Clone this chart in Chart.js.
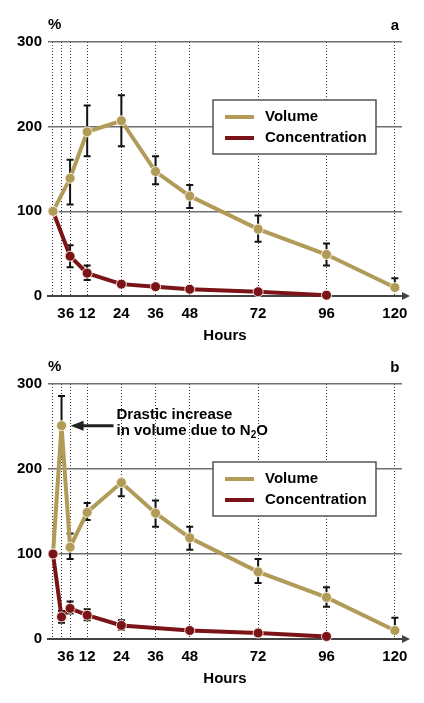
<!DOCTYPE html>
<html>
<head>
<meta charset="utf-8">
<script src="https://cdn.jsdelivr.net/npm/chart.js@4.4.1/dist/chart.umd.min.js"></script>
<style>
  html, body { margin: 0; padding: 0; background: #fff; }
  #wrap { position: relative; width: 424px; height: 703px; }
  canvas { position: absolute; left: 0; }
  #chartA { top: 0; }
  #chartB { top: 342px; }
</style>
</head>
<body>
<div id="wrap">
  <canvas id="chartA" width="424" height="342"></canvas>
  <canvas id="chartB" width="424" height="361"></canvas>
</div>
<script>
// ---- data ----
const HOUR_TICKS = [0, 3, 6, 12, 24, 36, 48, 72, 96, 120];
const Y_TICKS = [0, 100, 200, 300];

// panel a
const A_VOL_HOURS = [0, 6, 12, 24, 36, 48, 72, 96, 120];
const A_VOL       = [100, 139, 194, 207, 147, 118, 79, 49, 10];
const A_VOL_HI    = [null, 161, 225, 237, 165, 131, 95, 62, 21];
const A_VOL_LO    = [null, 108, 165, 177, 132, 104, 64, 36, null];

const A_CON_HOURS = [0, 6, 12, 24, 36, 48, 72, 96];
const A_CON       = [100, 47, 27, 14, 11, 8, 5, 1];
const A_CON_HI    = [null, 60, 36, null, null, null, null, null];
const A_CON_LO    = [null, 34, 19, null, null, null, null, null];

// panel b
const B_VOL_HOURS = [0, 3, 6, 12, 24, 36, 48, 72, 96, 120];
const B_VOL       = [100, 251, 108, 149, 184, 148, 119, 79, 49, 10];
const B_VOL_HI    = [null, 286, 124, 160, null, 163, 132, 94, 61, 25];
const B_VOL_LO    = [null, 214, 94, 140, 168, 132, 105, 66, 38, null];

const B_CON_HOURS = [0, 3, 6, 12, 24, 48, 72, 96];
const B_CON       = [100, 26, 36, 28, 16, 10, 7, 3];
const B_CON_HI    = [null, 33, 44, 35, 22, null, null, null];
const B_CON_LO    = [null, 19, 30, 22, 11, null, null, null];

const LABELS = ["Volume", "Concentration"];

const GOLD = "#b09b58";
const RED = "#7a1418";
const FONT = "Liberation Sans, Arial, sans-serif";

function toXY(hours, vals) {
  return hours.map((h, i) => ({ x: h, y: vals[i] }));
}

function series(label, hours, vals, hi, lo, color, order) {
  return {
    label,
    data: toXY(hours, vals),
    errHi: hi,
    errLo: lo,
    borderColor: color,
    backgroundColor: color,
    borderWidth: 4,
    pointRadius: 5,
    pointBorderWidth: 1,
    pointBorderColor: "rgba(255,250,235,0.85)",
    pointBackgroundColor: color,
    tension: 0,
    clip: false,
    order
  };
}

// error bars, axis arrow, legend box, panel letters, note
const extras = {
  id: "extras",
  beforeDatasetsDraw(chart) {
    const ctx = chart.ctx;
    const y = chart.scales.y;
    ctx.save();
    ctx.strokeStyle = "#111";
    ctx.lineWidth = 2;
    chart.data.datasets.forEach((ds, di) => {
      const meta = chart.getDatasetMeta(di);
      meta.data.forEach((pt, i) => {
        [ds.errHi[i], ds.errLo[i]].forEach(v => {
          if (v == null) return;
          const py = y.getPixelForValue(v);
          ctx.beginPath();
          ctx.moveTo(pt.x, pt.y);
          ctx.lineTo(pt.x, py);
          ctx.moveTo(pt.x - 3.5, py);
          ctx.lineTo(pt.x + 3.5, py);
          ctx.stroke();
        });
      });
    });
    ctx.restore();
  },
  afterDraw(chart, args, opts) {
    const ctx = chart.ctx;
    const area = chart.chartArea;
    ctx.save();

    // arrow at the end of the x axis
    ctx.fillStyle = "#444";
    ctx.beginPath();
    ctx.moveTo(area.right - 1, area.bottom - 1);
    ctx.lineTo(area.right + 6, area.bottom - 1);
    ctx.lineTo(area.right + 6, area.bottom + 1);
    ctx.lineTo(area.right - 1, area.bottom + 1);
    ctx.fill();
    ctx.beginPath();
    ctx.moveTo(area.right + 8, area.bottom);
    ctx.lineTo(area.right, area.bottom - 4);
    ctx.lineTo(area.right, area.bottom + 4);
    ctx.closePath();
    ctx.fill();

    // % and panel letter
    ctx.fillStyle = "#000";
    ctx.font = "bold 15px " + FONT;
    ctx.textBaseline = "middle";
    ctx.textAlign = "left";
    ctx.fillText("%", area.left, 25);
    ctx.textAlign = "center";
    ctx.fillText(opts.letter, chart.scales.x.getPixelForValue(120), 26);

    // legend box
    const lx = 213, lw = 163, lh = 54, ly = opts.legendTop;
    ctx.fillStyle = "#fff";
    ctx.fillRect(lx, ly, lw, lh);
    ctx.strokeStyle = "#555";
    ctx.lineWidth = 1.5;
    ctx.strokeRect(lx, ly, lw, lh);
    chart.data.datasets.forEach((ds, i) => {
      const yy = ly + 17 + i * 21;
      ctx.strokeStyle = ds.borderColor;
      ctx.lineWidth = 4;
      ctx.beginPath();
      ctx.moveTo(lx + 12, yy);
      ctx.lineTo(lx + 41, yy);
      ctx.stroke();
      ctx.fillStyle = "#000";
      ctx.textAlign = "left";
      ctx.fillText(ds.label, lx + 52, yy);
    });

    // annotation arrow pointing to a data point
    if (opts.note) {
      const pt = chart.getDatasetMeta(opts.note.dataset).data[opts.note.index];
      const tipX = pt.x + 9, tipY = pt.y;
      ctx.strokeStyle = "#222";
      ctx.fillStyle = "#222";
      ctx.lineWidth = 3;
      ctx.beginPath();
      ctx.moveTo(tipX + 10, tipY);
      ctx.lineTo(tipX + 43, tipY);
      ctx.stroke();
      ctx.beginPath();
      ctx.moveTo(tipX, tipY);
      ctx.lineTo(tipX + 13, tipY - 5);
      ctx.lineTo(tipX + 13, tipY + 5);
      ctx.closePath();
      ctx.fill();

      const tx = tipX + 46;
      ctx.fillStyle = "#000";
      ctx.textAlign = "left";
      ctx.font = "bold 15px " + FONT;
      ctx.fillText(opts.note.line1, tx, tipY - 11);
      ctx.fillText(opts.note.line2, tx, tipY + 5);
      let w = ctx.measureText(opts.note.line2).width;
      ctx.font = "bold 10px " + FONT;
      ctx.fillText(opts.note.sub, tx + w, tipY + 10);
      w += ctx.measureText(opts.note.sub).width;
      ctx.font = "bold 15px " + FONT;
      ctx.fillText(opts.note.tail, tx + w, tipY + 5);
    }
    ctx.restore();
  }
};

function makeOptions(bottomPad, extraOpts) {
  const tickFont = { family: FONT, size: 15, weight: "bold" };
  return {
    responsive: false,
    animation: false,
    layout: { padding: { top: 42, right: 22, bottom: bottomPad, left: 0 } },
    plugins: {
      legend: { display: false },
      tooltip: { enabled: false },
      extras: extraOpts
    },
    scales: {
      x: {
        type: "linear",
        min: -1.75,
        max: 122.5,
        afterBuildTicks: s => { s.ticks = HOUR_TICKS.map(v => ({ value: v })); },
        afterFit: s => { s.height = 46; },
        ticks: {
          autoSkip: false,
          maxRotation: 0,
          padding: 9,
          color: "#000",
          font: tickFont,
          callback: v => (v === 0 ? "" : String(v))
        },
        grid: { color: "#333", lineWidth: 1, drawTicks: false },
        border: { display: true, color: "#444", width: 2, dash: [1, 2] },
        title: {
          display: true,
          text: "Hours",
          color: "#000",
          font: tickFont,
          padding: { top: 0, bottom: -3 }
        }
      },
      y: {
        min: 0,
        max: 300,
        afterBuildTicks: s => { s.ticks = Y_TICKS.map(v => ({ value: v })); },
        afterFit: s => { s.width = 48; },
        ticks: { padding: 6, color: "#000", font: tickFont },
        grid: {
          color: c => (c.tick && c.tick.value === 0 ? "rgba(0,0,0,0)" : "#6f6f6f"),
          lineWidth: 1.5,
          drawTicks: false
        },
        border: { display: false }
      }
    }
  };
}

new Chart(document.getElementById("chartA"), {
  type: "line",
  data: {
    datasets: [
      series(LABELS[0], A_VOL_HOURS, A_VOL, A_VOL_HI, A_VOL_LO, GOLD, 0),
      series(LABELS[1], A_CON_HOURS, A_CON, A_CON_HI, A_CON_LO, RED, 1)
    ]
  },
  options: makeOptions(0, { letter: "a", legendTop: 100 }),
  plugins: [extras]
});

new Chart(document.getElementById("chartB"), {
  type: "line",
  data: {
    datasets: [
      series(LABELS[0], B_VOL_HOURS, B_VOL, B_VOL_HI, B_VOL_LO, GOLD, 1),
      series(LABELS[1], B_CON_HOURS, B_CON, B_CON_HI, B_CON_LO, RED, 0)
    ]
  },
  options: makeOptions(18, {
    letter: "b",
    legendTop: 120,
    note: {
      dataset: 0,
      index: 1,
      line1: "Drastic increase",
      line2: "in volume due to N",
      sub: "2",
      tail: "O"
    }
  }),
  plugins: [extras]
});
</script>
</body>
</html>
